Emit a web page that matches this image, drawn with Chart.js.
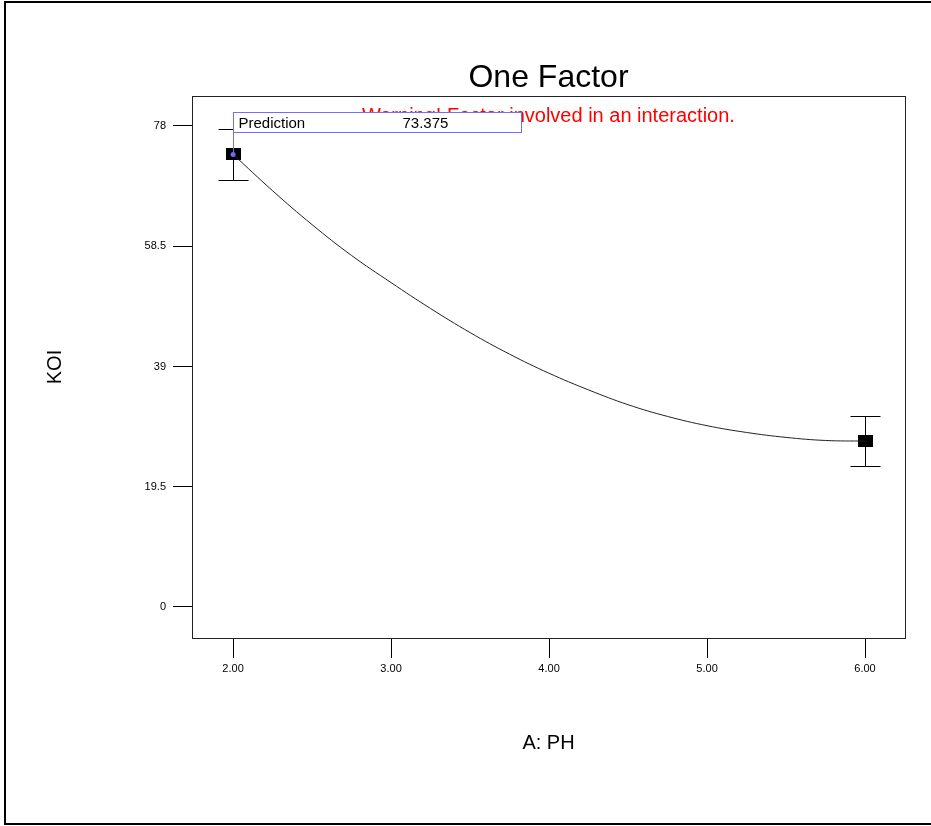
<!DOCTYPE html>
<html>
<head>
<meta charset="utf-8">
<script src="https://cdn.jsdelivr.net/npm/chart.js@4.4.0/dist/chart.umd.min.js"></script>
<style>
  html, body { margin: 0; padding: 0; background: #fff; overflow: hidden; }
  #frame { position: absolute; left: 4px; top: 1px; width: 940px; height: 824px; box-sizing: border-box; border: 2px solid #000; }
  #wrap { position: absolute; left: 0; top: 0; width: 931px; height: 826px; }
</style>
</head>
<body>
<div id="frame"></div>
<div id="wrap"><canvas id="graph"></canvas></div>
<script>
const xTicks = [2, 3, 4, 5, 6];
const yTicks = [0, 19.5, 39, 58.5, 78];

// model curve
const curveX = [2.00, 2.25, 2.50, 2.75, 3.00, 3.25, 3.50, 3.75, 4.00, 4.25, 4.50, 4.75, 5.00, 5.25, 5.50, 5.75, 6.00];
const curveY = [73.4, 67.5, 62.0, 57.0, 52.6, 48.4, 44.5, 41.0, 37.9, 35.2, 32.8, 30.9, 29.4, 28.3, 27.5, 27.0, 26.9];

// design points with their error bars
const designX = [2, 6];
const designY = [73.375, 26.9];
const errLow = [69.2, 22.8];
const errHigh = [77.5, 31.0];

const predX = 2;
const predY = 73.375;

const titleText = 'One Factor';
const warningText = 'Warning! Factor involved in an interaction.';
const fontFam = "'Liberation Sans', Arial, sans-serif";

// black 15x12 marker
const marker = document.createElement('canvas');
marker.width = 15;
marker.height = 12;
const mctx = marker.getContext('2d');
mctx.fillStyle = '#000';
mctx.fillRect(0, 0, 15, 12);

const errorBars = {
  id: 'errorBars',
  beforeDatasetsDraw(chart) {
    const { ctx, scales: { x, y } } = chart;
    ctx.save();
    ctx.strokeStyle = '#000';
    ctx.lineWidth = 1;
    designX.forEach((v, i) => {
      const px = Math.round(x.getPixelForValue(v)) + 0.5;
      const top = Math.round(y.getPixelForValue(errHigh[i])) + 0.5;
      const bot = Math.round(y.getPixelForValue(errLow[i])) + 0.5;
      ctx.beginPath();
      ctx.moveTo(px, top); ctx.lineTo(px, bot);
      ctx.moveTo(px - 15, top); ctx.lineTo(px + 15, top);
      ctx.moveTo(px - 15, bot); ctx.lineTo(px + 15, bot);
      ctx.stroke();
    });
    ctx.restore();
  }
};

const decorations = {
  id: 'decorations',
  afterDraw(chart) {
    const { ctx, chartArea: a, scales: { x, y } } = chart;
    ctx.save();
    // plot box
    ctx.strokeStyle = '#222';
    ctx.lineWidth = 1;
    ctx.strokeRect(Math.round(a.left) + 0.5, Math.round(a.top) + 0.5,
      Math.round(a.right - a.left), Math.round(a.bottom - a.top));

    const cx = (a.left + a.right) / 2;
    ctx.textAlign = 'center';
    ctx.textBaseline = 'middle';
    ctx.fillStyle = '#000';
    ctx.font = '32px ' + fontFam;
    ctx.fillText(titleText, cx, 78);
    ctx.fillStyle = '#ff0000';
    ctx.font = '20px ' + fontFam;
    ctx.fillText(warningText, cx, 116);

    // prediction flag
    const px = x.getPixelForValue(predX);
    const py = y.getPixelForValue(predY);
    const bx = Math.round(px) + 0.5;
    const bBottom = Math.round(py) - 22 + 0.5;
    const bTop = bBottom - 20;
    ctx.fillStyle = '#fff';
    ctx.fillRect(bx, bTop, 288, 20);
    ctx.strokeStyle = '#6f6fff';
    ctx.strokeRect(bx, bTop, 288, 20);
    ctx.beginPath();
    ctx.moveTo(bx, bBottom);
    ctx.lineTo(bx, py);
    ctx.stroke();
    ctx.fillStyle = '#6a6aff';
    ctx.beginPath();
    ctx.arc(px, py, 2.5, 0, Math.PI * 2);
    ctx.fill();
    ctx.fillStyle = '#000';
    ctx.textAlign = 'left';
    ctx.font = '15px ' + fontFam;
    ctx.fillText('Prediction', bx + 5, bTop + 11.5);
    ctx.fillText(predY.toFixed(3), bx + 169, bTop + 11.5);
    ctx.restore();
  }
};

new Chart(document.getElementById('graph').getContext('2d'), {
  type: 'scatter',
  data: {
    datasets: [
      {
        type: 'line',
        data: curveX.map((v, i) => ({ x: v, y: curveY[i] })),
        borderColor: '#222',
        borderWidth: 1,
        pointRadius: 0,
        fill: false,
        tension: 0.4,
      },
      {
        data: designX.map((v, i) => ({ x: v, y: designY[i] })),
        pointStyle: marker,
        pointRadius: 7,
        showLine: false,
      },
    ],
  },
  options: {
    responsive: true,
    maintainAspectRatio: false,
    animation: false,
    events: [],
    layout: { padding: { left: 0, right: 26, top: 96, bottom: 0 } },
    plugins: { legend: { display: false }, tooltip: { enabled: false } },
    scales: {
      x: {
        type: 'linear',
        min: 1.74,
        max: 6.253,
        afterBuildTicks: (s) => { s.ticks = xTicks.map((v) => ({ value: v })); },
        afterFit: (s) => { s.height = 188; },
        ticks: {
          color: '#000',
          padding: 4,
          maxRotation: 0,
          font: { size: 11, family: fontFam },
          callback: (v) => Number(v).toFixed(2),
        },
        grid: { drawOnChartArea: false, drawTicks: true, tickLength: 20, color: '#000' },
        border: { display: false },
        title: {
          display: true,
          text: 'A: PH',
          color: '#000',
          font: { size: 20, family: fontFam },
          padding: { top: 0, bottom: 71 },
        },
      },
      y: {
        type: 'linear',
        min: -5.03,
        max: 82.86,
        afterBuildTicks: (s) => { s.ticks = yTicks.map((v) => ({ value: v })); },
        afterFit: (s) => { s.width = 192; },
        ticks: {
          color: '#000',
          padding: 7,
          font: { size: 11, family: fontFam },
          callback: (v) => String(v),
        },
        grid: { drawOnChartArea: false, drawTicks: true, tickLength: 19, color: '#000' },
        border: { display: false },
        title: {
          display: true,
          text: 'KOI',
          color: '#000',
          font: { size: 20, family: fontFam },
          padding: { top: 43, bottom: 0 },
        },
      },
    },
  },
  plugins: [errorBars, decorations],
});
</script>
</body>
</html>
